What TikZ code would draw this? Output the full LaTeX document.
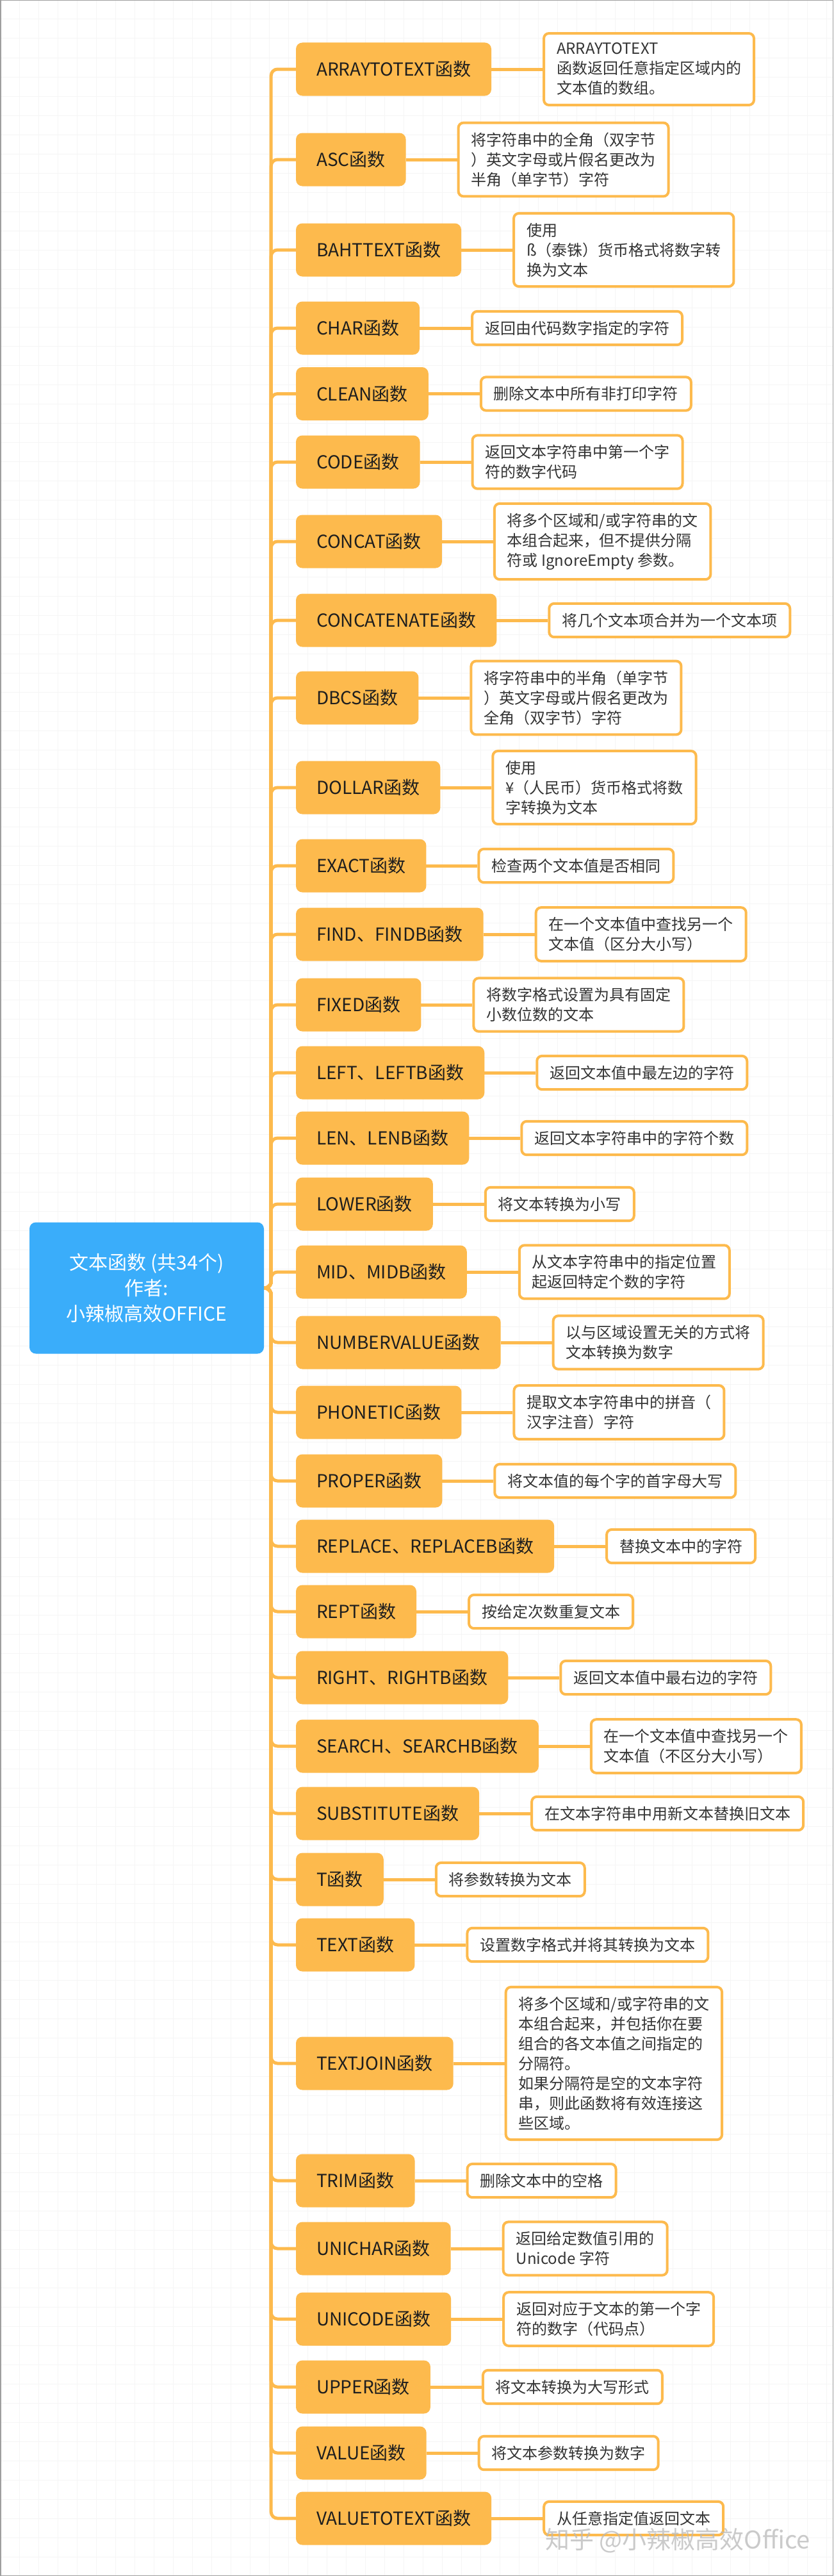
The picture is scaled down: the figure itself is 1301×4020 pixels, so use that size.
\documentclass[tikz,border=0pt]{standalone}
\usepackage{fontspec}
\setmainfont{Noto Sans CJK SC}
\usepackage{tikz}
\usetikzlibrary{positioning, backgrounds}
\usepackage{xcolor}

\definecolor{fnorange}{RGB}{253,186,77}
\definecolor{rootblue}{RGB}{58,173,250}
\definecolor{fntext}{RGB}{30,30,30}
\definecolor{desctext}{RGB}{51,51,51}
\newcommand{\rootfont}{\fontsize{30}{40}\selectfont}
\newcommand{\fnfont}{\fontsize{28}{34}\selectfont}
\newcommand{\descfont}{\fontsize{24}{31}\selectfont}

\begin{document}
\begin{tikzpicture}[x=1pt, y=-1pt,
    root/.style={rectangle, fill=rootblue, rounded corners=10pt, minimum width=366pt,
    minimum height=205pt, align=center, text=white, font=\rootfont},
    fn/.style={rectangle, fill=fnorange, rounded corners=10pt, minimum height=83pt,
    inner xsep=32pt, outer sep=0pt, font=\fnfont, text=fntext, anchor=west},
    desc/.style={rectangle, draw=fnorange, line width=4pt, fill=white, rounded corners=8pt,
    inner xsep=20pt, inner ysep=15pt, align=left, font=\descfont, text=desctext},
    branch/.style={draw=fnorange, line width=5pt, rounded corners=10pt},
    link/.style={draw=fnorange, line width=5pt},
    gridline/.style={draw=black!4, line width=1pt},
]
\useasboundingbox (0,0) rectangle (1301,4020);

\node[root] (root) at (229,2010) {文本函数 (共34个)\\作者:\\小辣椒高效OFFICE};

\node[fn] (arraytotext) at (462,108) {ARRAYTOTEXT函数};
\node[fn, below=58pt of arraytotext.south west, anchor=north west] (asc) {ASC函数};
\node[fn, below=58pt of asc.south west, anchor=north west] (bahttext) {BAHTTEXT函数};
\node[fn, below=39pt of bahttext.south west, anchor=north west] (char) {CHAR函数};
\node[fn, below=19.5pt of char.south west, anchor=north west] (clean) {CLEAN函数};
\node[fn, below=23.5pt of clean.south west, anchor=north west] (code) {CODE函数};
\node[fn, below=41pt of code.south west, anchor=north west] (concat) {CONCAT函数};
\node[fn, below=40pt of concat.south west, anchor=north west] (concatenate) {CONCATENATE函数};
\node[fn, below=38pt of concatenate.south west, anchor=north west] (dbcs) {DBCS函数};
\node[fn, below=57pt of dbcs.south west, anchor=north west] (dollar) {DOLLAR函数};
\node[fn, below=39pt of dollar.south west, anchor=north west] (exact) {EXACT函数};
\node[fn, below=24pt of exact.south west, anchor=north west] (findb) {FIND、FINDB函数};
\node[fn, below=27pt of findb.south west, anchor=north west] (fixed) {FIXED函数};
\node[fn, below=23pt of fixed.south west, anchor=north west] (leftb) {LEFT、LEFTB函数};
\node[fn, below=19pt of leftb.south west, anchor=north west] (lenb) {LEN、LENB函数};
\node[fn, below=20pt of lenb.south west, anchor=north west] (lower) {LOWER函数};
\node[fn, below=23pt of lower.south west, anchor=north west] (midb) {MID、MIDB函数};
\node[fn, below=27pt of midb.south west, anchor=north west] (numbervalue) {NUMBERVALUE函数};
\node[fn, below=26pt of numbervalue.south west, anchor=north west] (phonetic) {PHONETIC函数};
\node[fn, below=24pt of phonetic.south west, anchor=north west] (proper) {PROPER函数};
\node[fn, below=19pt of proper.south west, anchor=north west] (replaceb) {REPLACE、REPLACEB函数};
\node[fn, below=19pt of replaceb.south west, anchor=north west] (rept) {REPT函数};
\node[fn, below=20pt of rept.south west, anchor=north west] (rightb) {RIGHT、RIGHTB函数};
\node[fn, below=24pt of rightb.south west, anchor=north west] (searchb) {SEARCH、SEARCHB函数};
\node[fn, below=22pt of searchb.south west, anchor=north west] (substitute) {SUBSTITUTE函数};
\node[fn, below=20pt of substitute.south west, anchor=north west] (tfn) {T函数};
\node[fn, below=19pt of tfn.south west, anchor=north west] (textfn) {TEXT函数};
\node[fn, below=102pt of textfn.south west, anchor=north west] (textjoin) {TEXTJOIN函数};
\node[fn, below=100pt of textjoin.south west, anchor=north west] (trim) {TRIM函数};
\node[fn, below=23pt of trim.south west, anchor=north west] (unichar) {UNICHAR函数};
\node[fn, below=27pt of unichar.south west, anchor=north west] (unicode) {UNICODE函数};
\node[fn, below=23pt of unicode.south west, anchor=north west] (upper) {UPPER函数};
\node[fn, below=20pt of upper.south west, anchor=north west] (value) {VALUE函数};
\node[fn, below=19pt of value.south west, anchor=north west] (valuetotext) {VALUETOTEXT函数};

\node[desc, right=80pt of arraytotext] (arraytotext-d) {ARRAYTOTEXT\\函数返回任意指定区域内的\\文本值的数组。};
\node[desc, right=80pt of asc] (asc-d) {将字符串中的全角（双字节\\）英文字母或片假名更改为\\半角（单字节）字符};
\node[desc, right=80pt of bahttext] (bahttext-d) {使用\\ß（泰铢）货币格式将数字转\\换为文本};
\node[desc, right=80pt of char] (char-d) {返回由代码数字指定的字符};
\node[desc, right=80pt of clean] (clean-d) {删除文本中所有非打印字符};
\node[desc, right=80pt of code] (code-d) {返回文本字符串中第一个字\\符的数字代码};
\node[desc, right=80pt of concat] (concat-d) {将多个区域和/或字符串的文\\本组合起来，但不提供分隔\\符或 IgnoreEmpty 参数。};
\node[desc, right=80pt of concatenate] (concatenate-d) {将几个文本项合并为一个文本项};
\node[desc, right=80pt of dbcs] (dbcs-d) {将字符串中的半角（单字节\\）英文字母或片假名更改为\\全角（双字节）字符};
\node[desc, right=80pt of dollar] (dollar-d) {使用\\¥（人民币）货币格式将数\\字转换为文本};
\node[desc, right=80pt of exact] (exact-d) {检查两个文本值是否相同};
\node[desc, right=80pt of findb] (findb-d) {在一个文本值中查找另一个\\文本值（区分大小写）};
\node[desc, right=80pt of fixed] (fixed-d) {将数字格式设置为具有固定\\小数位数的文本};
\node[desc, right=80pt of leftb] (leftb-d) {返回文本值中最左边的字符};
\node[desc, right=80pt of lenb] (lenb-d) {返回文本字符串中的字符个数};
\node[desc, right=80pt of lower] (lower-d) {将文本转换为小写};
\node[desc, right=80pt of midb] (midb-d) {从文本字符串中的指定位置\\起返回特定个数的字符};
\node[desc, right=80pt of numbervalue] (numbervalue-d) {以与区域设置无关的方式将\\文本转换为数字};
\node[desc, right=80pt of phonetic] (phonetic-d) {提取文本字符串中的拼音（\\汉字注音）字符};
\node[desc, right=80pt of proper] (proper-d) {将文本值的每个字的首字母大写};
\node[desc, right=80pt of replaceb] (replaceb-d) {替换文本中的字符};
\node[desc, right=80pt of rept] (rept-d) {按给定次数重复文本};
\node[desc, right=80pt of rightb] (rightb-d) {返回文本值中最右边的字符};
\node[desc, right=80pt of searchb] (searchb-d) {在一个文本值中查找另一个\\文本值（不区分大小写）};
\node[desc, right=80pt of substitute] (substitute-d) {在文本字符串中用新文本替换旧文本};
\node[desc, right=80pt of tfn] (tfn-d) {将参数转换为文本};
\node[desc, right=80pt of textfn] (textfn-d) {设置数字格式并将其转换为文本};
\node[desc, right=80pt of textjoin] (textjoin-d) {将多个区域和/或字符串的文\\本组合起来，并包括你在要\\组合的各文本值之间指定的\\分隔符。\\如果分隔符是空的文本字符\\串，则此函数将有效连接这\\些区域。};
\node[desc, right=80pt of trim] (trim-d) {删除文本中的空格};
\node[desc, right=80pt of unichar] (unichar-d) {返回给定数值引用的\\Unicode 字符};
\node[desc, right=80pt of unicode] (unicode-d) {返回对应于文本的第一个字\\符的数字（代码点）};
\node[desc, right=80pt of upper] (upper-d) {将文本转换为大写形式};
\node[desc, right=80pt of value] (value-d) {将文本参数转换为数字};
\node[desc, right=80pt of valuetotext] (valuetotext-d) {从任意指定值返回文本};

\node[font=\fontsize{38}{44}\selectfont, text=gray!55, opacity=0.75] (mark) at (1058,3965) {知乎 @小辣椒高效Office};

\begin{scope}[on background layer]
\fill[white] (0,0) rectangle (1301,4020);
\draw[gridline, step=30pt] (0,0) grid (1301,4020);
\draw[gray!75, line width=1.5pt] (0.75,0.75) rectangle (1300.25,4019.25);

% root to functions
\draw[branch] (root.east) -- ++(11pt,0) |- (arraytotext.west);
\draw[branch] (root.east) -- ++(11pt,0) |- (asc.west);
\draw[branch] (root.east) -- ++(11pt,0) |- (bahttext.west);
\draw[branch] (root.east) -- ++(11pt,0) |- (char.west);
\draw[branch] (root.east) -- ++(11pt,0) |- (clean.west);
\draw[branch] (root.east) -- ++(11pt,0) |- (code.west);
\draw[branch] (root.east) -- ++(11pt,0) |- (concat.west);
\draw[branch] (root.east) -- ++(11pt,0) |- (concatenate.west);
\draw[branch] (root.east) -- ++(11pt,0) |- (dbcs.west);
\draw[branch] (root.east) -- ++(11pt,0) |- (dollar.west);
\draw[branch] (root.east) -- ++(11pt,0) |- (exact.west);
\draw[branch] (root.east) -- ++(11pt,0) |- (findb.west);
\draw[branch] (root.east) -- ++(11pt,0) |- (fixed.west);
\draw[branch] (root.east) -- ++(11pt,0) |- (leftb.west);
\draw[branch] (root.east) -- ++(11pt,0) |- (lenb.west);
\draw[branch] (root.east) -- ++(11pt,0) |- (lower.west);
\draw[branch] (root.east) -- ++(11pt,0) |- (midb.west);
\draw[branch] (root.east) -- ++(11pt,0) |- (numbervalue.west);
\draw[branch] (root.east) -- ++(11pt,0) |- (phonetic.west);
\draw[branch] (root.east) -- ++(11pt,0) |- (proper.west);
\draw[branch] (root.east) -- ++(11pt,0) |- (replaceb.west);
\draw[branch] (root.east) -- ++(11pt,0) |- (rept.west);
\draw[branch] (root.east) -- ++(11pt,0) |- (rightb.west);
\draw[branch] (root.east) -- ++(11pt,0) |- (searchb.west);
\draw[branch] (root.east) -- ++(11pt,0) |- (substitute.west);
\draw[branch] (root.east) -- ++(11pt,0) |- (tfn.west);
\draw[branch] (root.east) -- ++(11pt,0) |- (textfn.west);
\draw[branch] (root.east) -- ++(11pt,0) |- (textjoin.west);
\draw[branch] (root.east) -- ++(11pt,0) |- (trim.west);
\draw[branch] (root.east) -- ++(11pt,0) |- (unichar.west);
\draw[branch] (root.east) -- ++(11pt,0) |- (unicode.west);
\draw[branch] (root.east) -- ++(11pt,0) |- (upper.west);
\draw[branch] (root.east) -- ++(11pt,0) |- (value.west);
\draw[branch] (root.east) -- ++(11pt,0) |- (valuetotext.west);

% functions to descriptions
\draw[link] (arraytotext) -- (arraytotext-d);
\draw[link] (asc) -- (asc-d);
\draw[link] (bahttext) -- (bahttext-d);
\draw[link] (char) -- (char-d);
\draw[link] (clean) -- (clean-d);
\draw[link] (code) -- (code-d);
\draw[link] (concat) -- (concat-d);
\draw[link] (concatenate) -- (concatenate-d);
\draw[link] (dbcs) -- (dbcs-d);
\draw[link] (dollar) -- (dollar-d);
\draw[link] (exact) -- (exact-d);
\draw[link] (findb) -- (findb-d);
\draw[link] (fixed) -- (fixed-d);
\draw[link] (leftb) -- (leftb-d);
\draw[link] (lenb) -- (lenb-d);
\draw[link] (lower) -- (lower-d);
\draw[link] (midb) -- (midb-d);
\draw[link] (numbervalue) -- (numbervalue-d);
\draw[link] (phonetic) -- (phonetic-d);
\draw[link] (proper) -- (proper-d);
\draw[link] (replaceb) -- (replaceb-d);
\draw[link] (rept) -- (rept-d);
\draw[link] (rightb) -- (rightb-d);
\draw[link] (searchb) -- (searchb-d);
\draw[link] (substitute) -- (substitute-d);
\draw[link] (tfn) -- (tfn-d);
\draw[link] (textfn) -- (textfn-d);
\draw[link] (textjoin) -- (textjoin-d);
\draw[link] (trim) -- (trim-d);
\draw[link] (unichar) -- (unichar-d);
\draw[link] (unicode) -- (unicode-d);
\draw[link] (upper) -- (upper-d);
\draw[link] (value) -- (value-d);
\draw[link] (valuetotext) -- (valuetotext-d);
\end{scope}

\end{tikzpicture}
\end{document}
